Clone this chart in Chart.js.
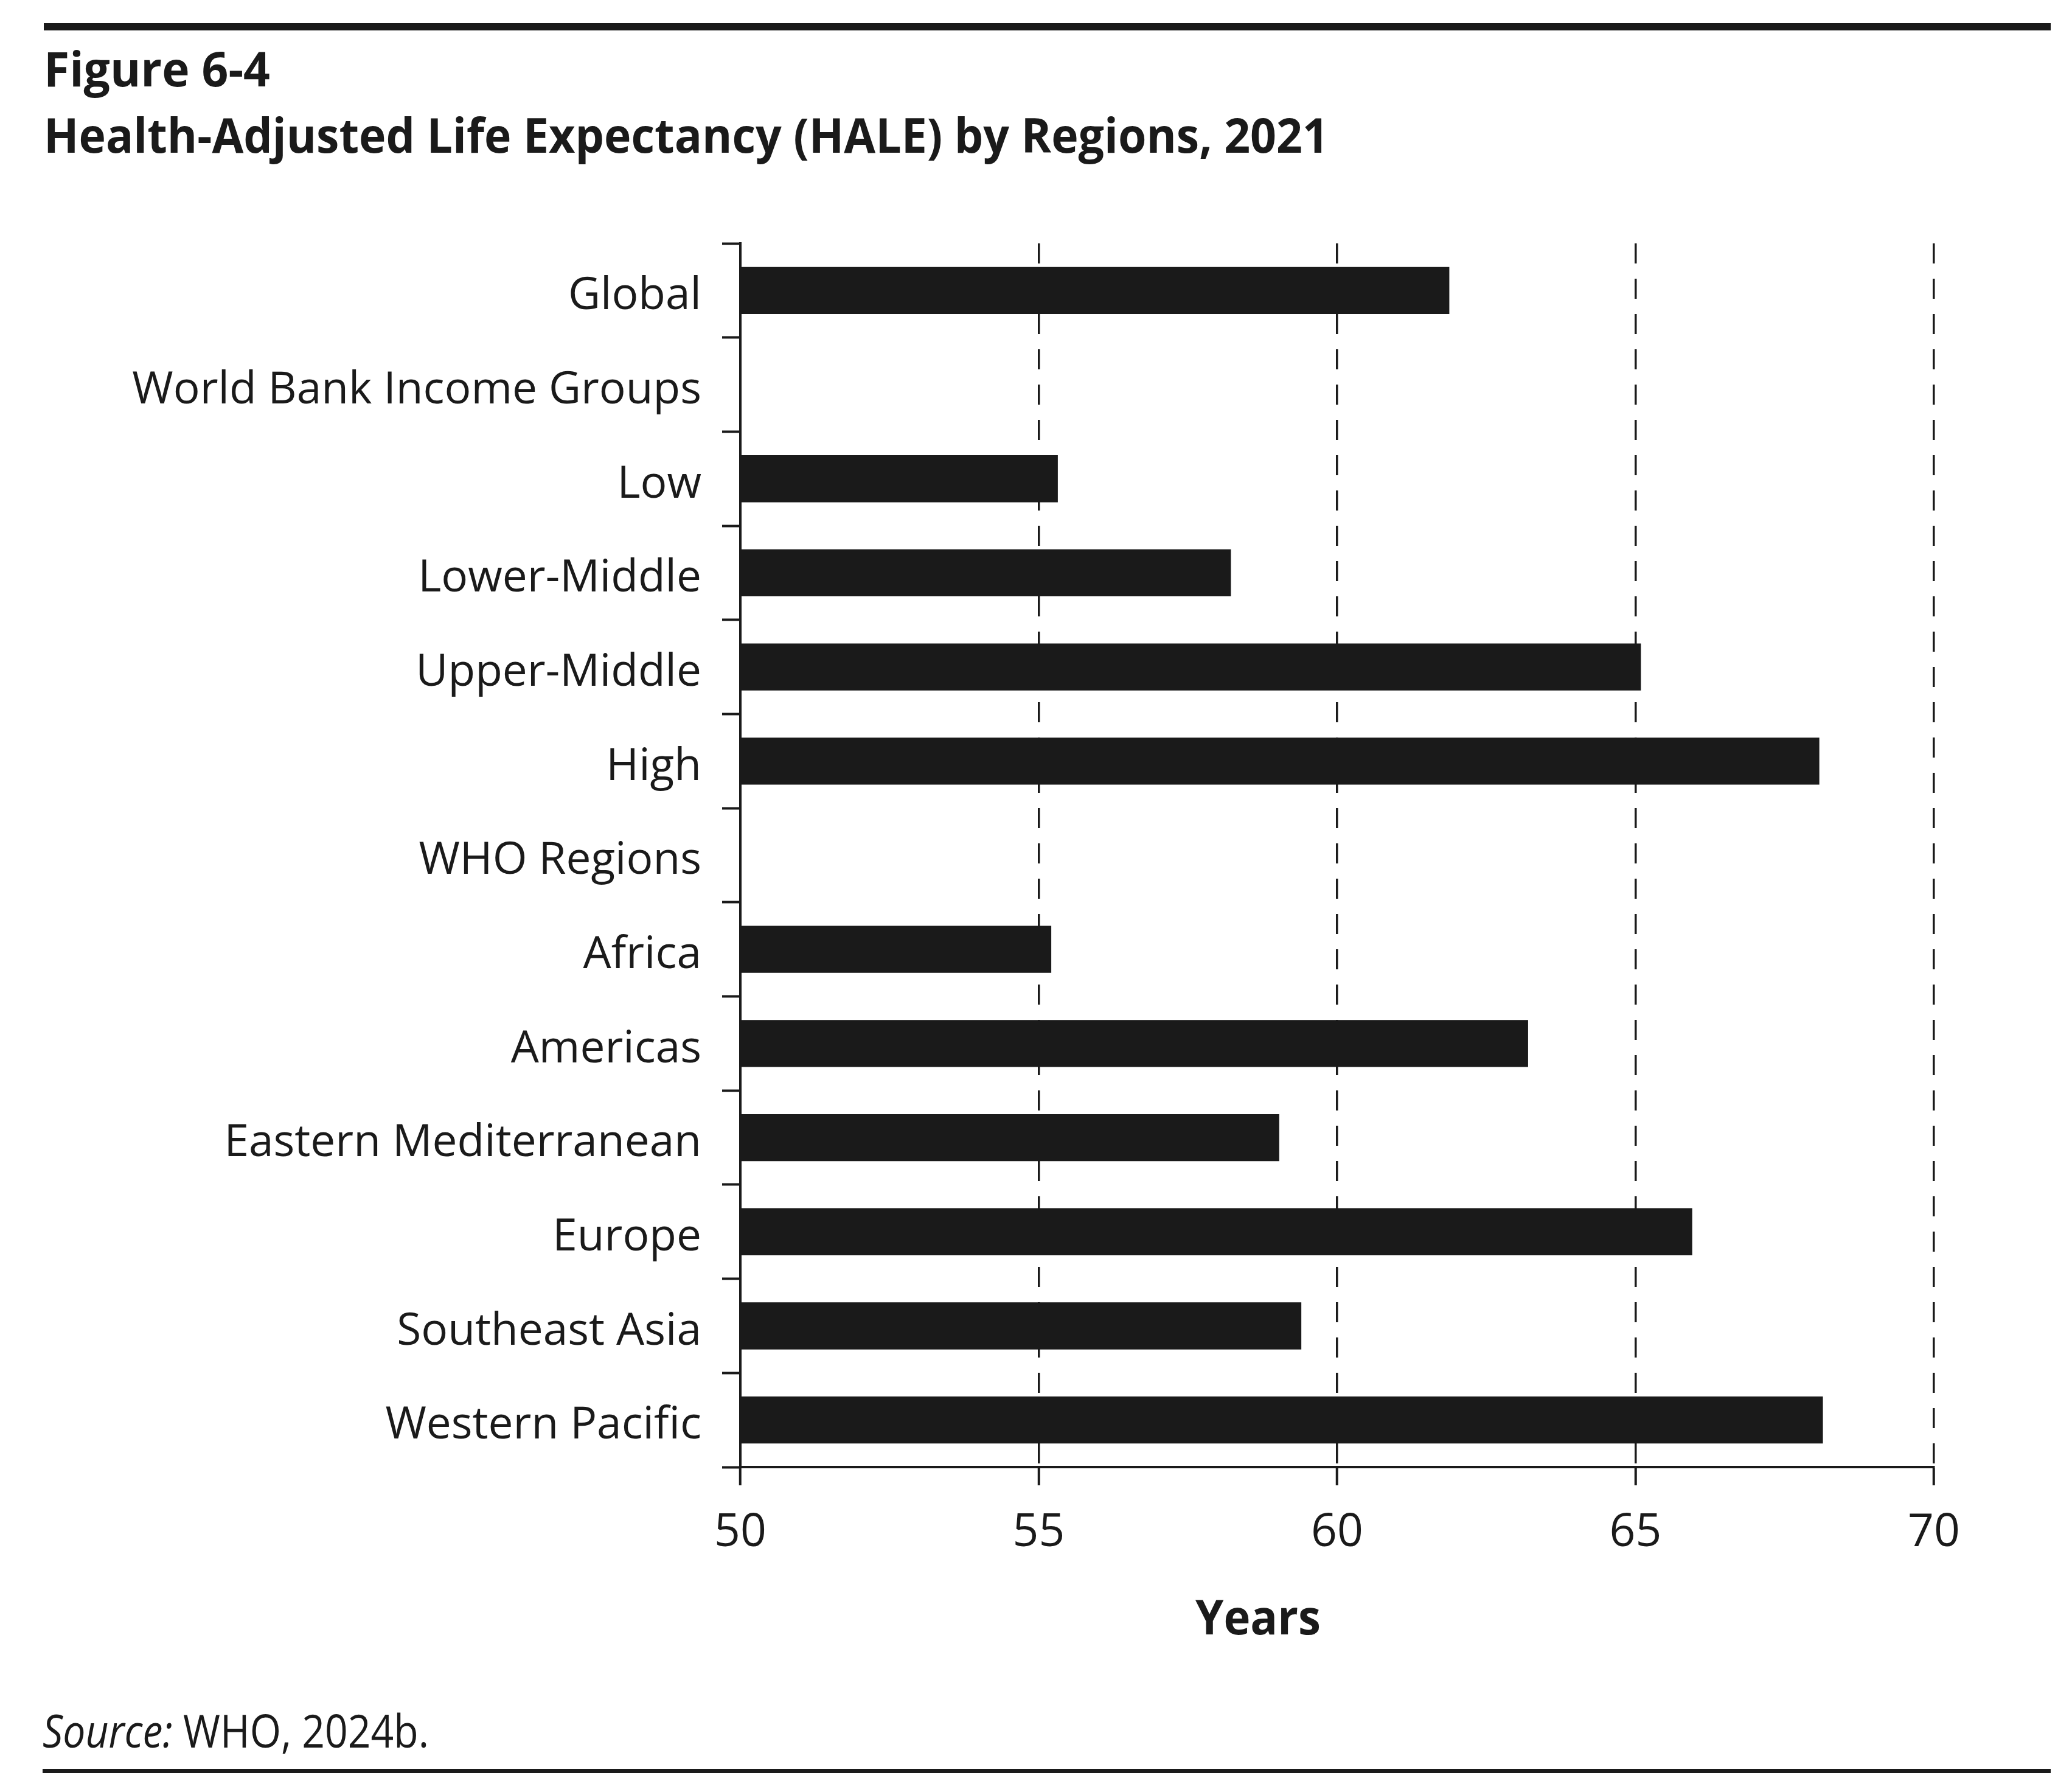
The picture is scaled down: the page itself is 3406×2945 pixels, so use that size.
<!DOCTYPE html>
<html>
<head>
<meta charset="utf-8">
<script src="https://cdn.jsdelivr.net/npm/chart.js@4.4.1/dist/chart.umd.min.js"></script>
<style>
  html, body { margin: 0; padding: 0; background: #ffffff; }
  body { width: 3406px; height: 2945px; position: relative; overflow: hidden; font-family: "Open Sans", sans-serif; color: #1a1a1a; }
  .rule { position: absolute; background: #1a1a1a; }
  .txt { position: absolute; white-space: nowrap; line-height: 1; transform-origin: left top; }
  #chartWrap { position: absolute; left: 0; top: 0; width: 3406px; height: 2945px; }
</style>
</head>
<body>
<div class="rule" style="left:72px; top:38px; width:3299px; height:12px;"></div>
<div class="txt" id="fig" data-w="372" style="left:72px; top:73px; font-size:78px; font-weight:700;">Figure 6-4</div>
<div class="txt" id="ttl" data-w="2112" style="left:72px; top:182px; font-size:78px; font-weight:700;">Health-Adjusted Life Expectancy (HALE) by Regions, 2021</div>
<div id="chartWrap"><canvas id="c" width="3406" height="2945"></canvas></div>
<div class="txt" id="years" data-w="206" data-cx="2068" style="top:2617px; font-size:78px; font-weight:700;">Years</div>
<div class="txt" id="src" data-w="635" style="left:70px; top:2806px; font-size:75px;"><i>Source:</i> WHO, 2024b.</div>
<div class="rule" style="left:70px; top:2907px; width:3301px; height:7px;"></div>
<script>
// ---- data ----
const categories = [
  "Global",
  "World Bank Income Groups",
  "Low",
  "Lower-Middle",
  "Upper-Middle",
  "High",
  "WHO Regions",
  "Africa",
  "Americas",
  "Eastern Mediterranean",
  "Europe",
  "Southeast Asia",
  "Western Pacific"
];
const haleYears = [61.88, null, 55.32, 58.22, 65.09, 68.08, null, 55.21, 63.20, 59.03, 65.95, 59.40, 68.14];
const xTickMin = 50;
const xTickMax = 70;
const xTickStep = 5;
const xAxisTitle = "Years";

// ---- layout targets (pixels) ----
const INK = "#1a1a1a";
const PLOT_LEFT = 1217, PLOT_RIGHT = 3179, PLOT_TOP = 400, PLOT_BOTTOM = 2411;
const W = 3406, H = 2945, PAD_BOTTOM = 200;

Chart.defaults.font.family = '"Open Sans", sans-serif';
Chart.defaults.color = INK;

new Chart(document.getElementById("c"), {
  type: "bar",
  data: {
    labels: categories,
    datasets: [{
      data: haleYears,
      backgroundColor: INK,
      borderWidth: 0,
      barPercentage: 1.0,
      categoryPercentage: 0.5
    }]
  },
  options: {
    indexAxis: "y",
    responsive: false,
    animation: false,
    devicePixelRatio: 1,
    layout: { padding: { left: 0, top: PLOT_TOP, right: W - PLOT_RIGHT, bottom: PAD_BOTTOM } },
    plugins: { legend: { display: false }, tooltip: { enabled: false }, title: { display: false } },
    scales: {
      x: {
        type: "linear",
        min: xTickMin,
        max: xTickMax,
        ticks: { stepSize: xTickStep, font: { size: 75 }, color: INK, padding: 34 },
        grid: {
          color: INK, lineWidth: 3.5, drawOnChartArea: true,
          tickLength: 30, tickWidth: 4, tickColor: INK, tickBorderDash: []
        },
        border: { display: true, color: INK, width: 4, dash: [33, 25], dashOffset: 0 },
        afterFit: (s) => { s.height = H - PAD_BOTTOM - PLOT_BOTTOM; }
      },
      y: {
        type: "category",
        offset: true,
        ticks: { font: { size: 73 }, color: INK, padding: 34, labelOffset: 10, autoSkip: false },
        grid: { offset: true, drawOnChartArea: false, tickLength: 30, tickWidth: 4, tickColor: INK, color: INK },
        border: { display: true, color: INK, width: 4 },
        afterFit: (s) => { s.width = PLOT_LEFT; }
      }
    }
  }
});

// fit HTML text widths to the reference
document.querySelectorAll(".txt[data-w]").forEach(el => {
  const target = parseFloat(el.dataset.w);
  const actual = el.getBoundingClientRect().width;
  const k = target / actual;
  if (el.dataset.cx) {
    el.style.left = (parseFloat(el.dataset.cx) - target / 2) + "px";
  }
  el.style.transform = "scaleX(" + k.toFixed(4) + ")";
});
</script>
</body>
</html>
